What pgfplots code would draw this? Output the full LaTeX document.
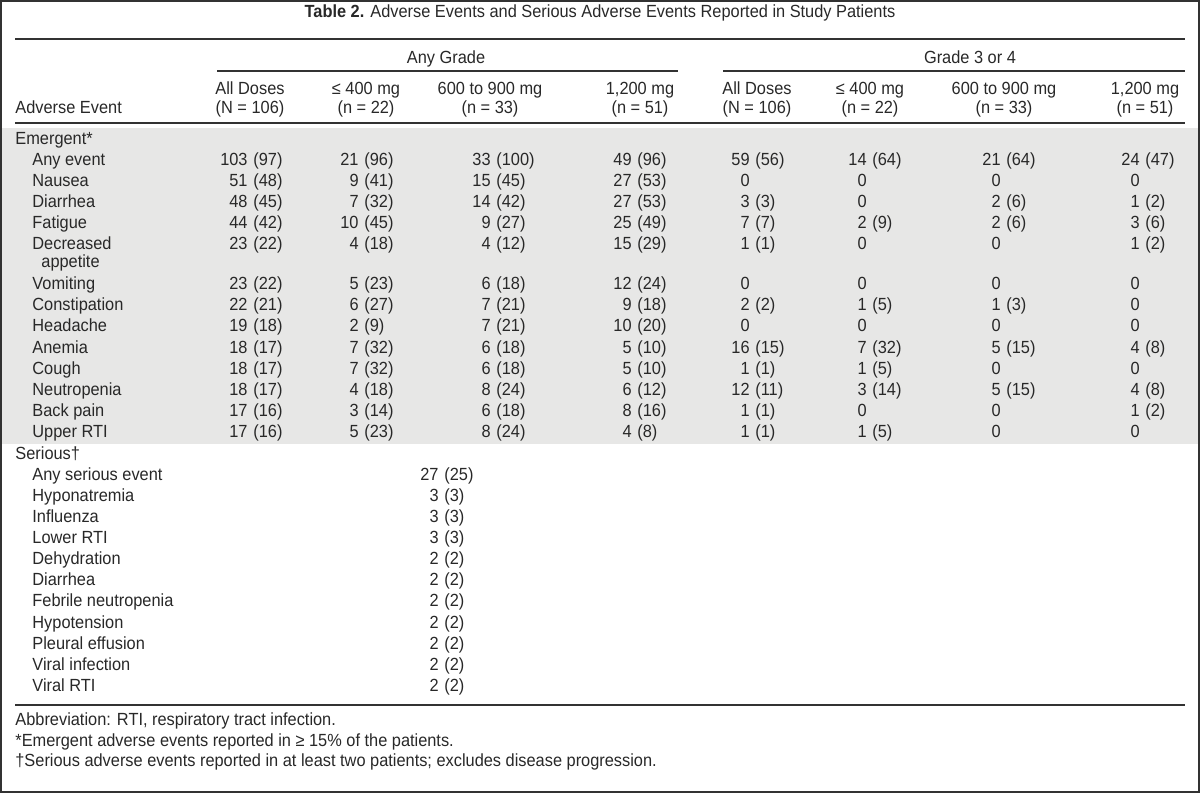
\documentclass[border=0pt]{standalone}
\usepackage{fontspec}
\setmainfont{Liberation Sans}[FakeStretch=0.93]
\usepackage{pgfplots}
\usepackage{pgfplotstable}
\pgfplotsset{compat=1.18}
\definecolor{band}{RGB}{231,231,230}
\definecolor{txt}{RGB}{40,40,40}
\definecolor{rulec}{RGB}{50,50,50}
\newcommand{\fs}{\fontsize{8.8}{10}\selectfont}
\protected\def\sc{;}

\pgfplotstableread{
x y t
15 140 Emergent*
32 161 {Any event}
32 182 Nausea
32 203 Diarrhea
32 224 Fatigue
32 245 Decreased
41 263 appetite
32 285 Vomiting
32 306 Constipation
32 327 Headache
32 349 Anemia
32 370 Cough
32 391 Neutropenia
32 412 {Back pain}
32 433 {Upper RTI}
15 455 Serious†
32 476 {Any serious event}
32 497 Hyponatremia
32 518 Influenza
32 539 {Lower RTI}
32 560 Dehydration
32 581 Diarrhea
32 602 {Febrile neutropenia}
32 624 Hypotension
32 645 {Pleural effusion}
32 666 {Viral infection}
32 687 {Viral RTI}
15 109 {Adverse Event}
15 721 {Abbreviation: RTI, respiratory tract infection.}
15 742 {*Emergent adverse events reported in ≥ 15\% of the patients.}
15 762 {†Serious adverse events reported in at least two patients\sc{} excludes disease progression.}
}\labelsW

\pgfplotstableread{
x y t
600 13 {\textbf{Table 2.} Adverse Events and Serious Adverse Events Reported in Study Patients}
446 59 {Any Grade}
970 59 {Grade 3 or 4}
250 90 {All Doses}
250 109 {(N = 106)}
366 90 {≤ 400 mg}
366 109 {(n = 22)}
490 90 {600 to 900 mg}
490 109 {(n = 33)}
640 90 {1,200 mg}
640 109 {(n = 51)}
757 90 {All Doses}
757 109 {(N = 106)}
870 90 {≤ 400 mg}
870 109 {(n = 22)}
1004 90 {600 to 900 mg}
1004 109 {(n = 33)}
1145 90 {1,200 mg}
1145 109 {(n = 51)}
}\headsC

\pgfplotstableread{
y n1 p1 n2 p2 n3 p3 n4 p4 n5 p5 n6 p6 n7 p7 n8 p8
161 103 (97) 21 (96) 33 (100) 49 (96) 59 (56) 14 (64) 21 (64) 24 (47)
182 51 (48) 9 (41) 15 (45) 27 (53) 0 {} 0 {} 0 {} 0 {}
203 48 (45) 7 (32) 14 (42) 27 (53) 3 (3) 0 {} 2 (6) 1 (2)
224 44 (42) 10 (45) 9 (27) 25 (49) 7 (7) 2 (9) 2 (6) 3 (6)
245 23 (22) 4 (18) 4 (12) 15 (29) 1 (1) 0 {} 0 {} 1 (2)
285 23 (22) 5 (23) 6 (18) 12 (24) 0 {} 0 {} 0 {} 0 {}
306 22 (21) 6 (27) 7 (21) 9 (18) 2 (2) 1 (5) 1 (3) 0 {}
327 19 (18) 2 (9) 7 (21) 10 (20) 0 {} 0 {} 0 {} 0 {}
349 18 (17) 7 (32) 6 (18) 5 (10) 16 (15) 7 (32) 5 (15) 4 (8)
370 18 (17) 7 (32) 6 (18) 5 (10) 1 (1) 1 (5) 0 {} 0 {}
391 18 (17) 4 (18) 8 (24) 6 (12) 12 (11) 3 (14) 5 (15) 4 (8)
412 17 (16) 3 (14) 6 (18) 8 (16) 1 (1) 0 {} 0 {} 1 (2)
433 17 (16) 5 (23) 8 (24) 4 (8) 1 (1) 1 (5) 0 {} 0 {}
}\emergent

\pgfplotstableread{
y n p
476 27 (25)
497 3 (3)
518 3 (3)
539 3 (3)
560 2 (2)
581 2 (2)
602 2 (2)
624 2 (2)
645 2 (2)
666 2 (2)
687 2 (2)
}\serious

\newcommand{\datcol}[4]{%
  \addplot[draw=none, nodes near coords, point meta=explicit symbolic,
    every node near coord/.append style={anchor=east}]
    table[x expr=#4, y=y, meta=#2] {#1};
  \addplot[draw=none, nodes near coords, point meta=explicit symbolic,
    every node near coord/.append style={anchor=west}]
    table[x expr=#4+5, y=y, meta=#3] {#1};
}

\begin{document}
\begin{tikzpicture}
\begin{axis}[
  width=600pt, height=396.5pt, scale only axis,
  xmin=0, xmax=1200, ymin=0, ymax=793, y dir=reverse,
  hide axis, clip=false,
  every node near coord/.append style={font=\fs, text=txt, inner sep=0pt,
     text height=6.4pt, text depth=1.8pt},
]
% shaded band
\addplot[fill=band, draw=none] coordinates {(2,128) (1198,128) (1198,444) (2,444)} -- cycle;
% rules
\addplot[rulec, line width=1pt] coordinates {(15,39) (1185,39)};
\addplot[rulec, line width=1pt] coordinates {(217,71) (678,71)};
\addplot[rulec, line width=1pt] coordinates {(723,71) (1185,71)};
\addplot[rulec, line width=1pt] coordinates {(15,123) (1185,123)};
\addplot[rulec, line width=1pt] coordinates {(15,705) (1185,705)};
% frame
\addplot[rulec, line width=1pt] coordinates {(1,1) (1199,1) (1199,792) (1,792)} -- cycle;
% text
\addplot[draw=none, nodes near coords, point meta=explicit symbolic,
  every node near coord/.append style={anchor=west}]
  table[x=x, y=y, meta=t] {\labelsW};
\addplot[draw=none, nodes near coords, point meta=explicit symbolic,
  every node near coord/.append style={anchor=center}]
  table[x=x, y=y, meta=t] {\headsC};
\datcol{\emergent}{n1}{p1}{248}
\datcol{\emergent}{n2}{p2}{359}
\datcol{\emergent}{n3}{p3}{491}
\datcol{\emergent}{n4}{p4}{632}
\datcol{\emergent}{n5}{p5}{750}
\datcol{\emergent}{n6}{p6}{867}
\datcol{\emergent}{n7}{p7}{1001}
\datcol{\emergent}{n8}{p8}{1140}
\datcol{\serious}{n}{p}{439}
\end{axis}
\end{tikzpicture}
\end{document}
